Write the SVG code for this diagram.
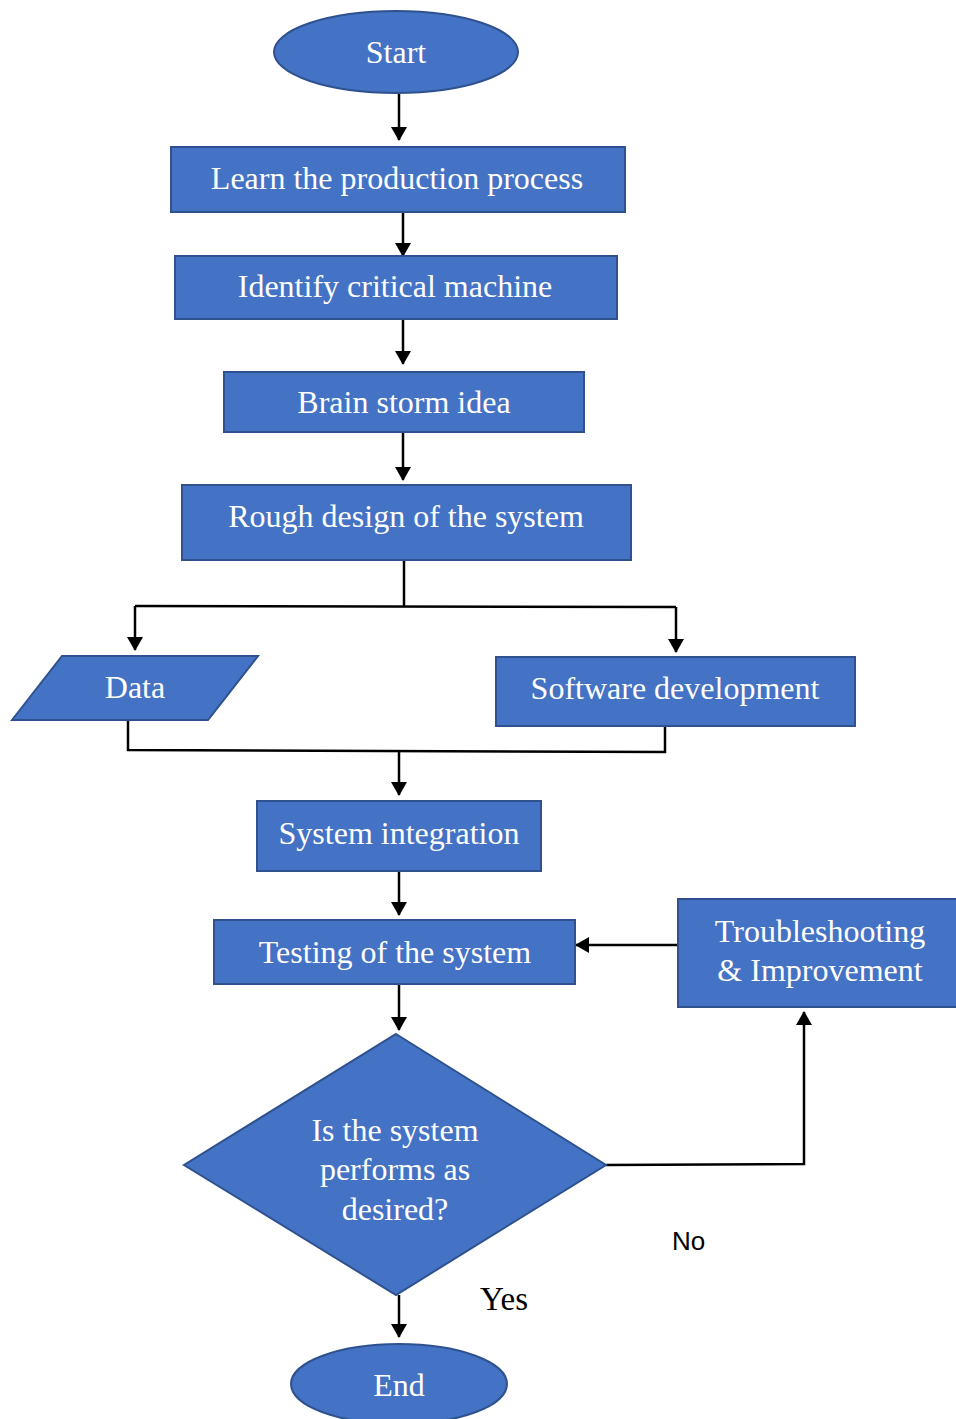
<svg xmlns="http://www.w3.org/2000/svg" width="956" height="1419" viewBox="0 0 956 1419">
  <defs>
    <marker id="arrow" markerWidth="14" markerHeight="16" refX="13" refY="8" orient="auto" markerUnits="userSpaceOnUse">
      <path d="M0,0 L14,8 L0,16 Z" fill="#000"/>
    </marker>
    <style>
      .shape { fill: #4472C4; stroke: #2F528F; stroke-width: 2; }
      .label { font-family: "Liberation Serif", "Times New Roman", serif; font-size: 32px; fill: #fff; text-anchor: middle; }
      .note { font-family: "Liberation Serif", "Times New Roman", serif; font-size: 33px; fill: #000; }
      .note-sans { font-family: "Liberation Sans", Arial, sans-serif; font-size: 26px; fill: #000; }
      .wire { fill: none; stroke: #000; stroke-width: 2.5; }
      .wire-arrow { fill: none; stroke: #000; stroke-width: 2.5; marker-end: url(#arrow); }
    </style>
  </defs>

  <rect width="956" height="1419" fill="#fff"/>

  <!-- connectors -->
  <g id="connectors">
    <line class="wire-arrow" x1="399" y1="94" x2="399" y2="140"/>
    <line class="wire-arrow" x1="403" y1="212" x2="403" y2="256"/>
    <line class="wire-arrow" x1="403" y1="319" x2="403" y2="364"/>
    <line class="wire-arrow" x1="403" y1="432" x2="403" y2="480"/>
    <!-- split to Data / Software -->
    <polyline class="wire" points="404,560 404,606"/>
    <polyline class="wire-arrow" points="135,606 135,650"/>
    <polyline class="wire" points="135,606 676,607"/>
    <polyline class="wire-arrow" points="676,607 676,652"/>
    <!-- merge into System integration -->
    <polyline class="wire" points="128,720 128,750 665,752 665,726"/>
    <line class="wire-arrow" x1="399" y1="750" x2="399" y2="795"/>
    <line class="wire-arrow" x1="399" y1="871" x2="399" y2="915"/>
    <line class="wire-arrow" x1="399" y1="984" x2="399" y2="1030"/>
    <!-- feedback loop -->
    <line class="wire-arrow" x1="678" y1="945" x2="576" y2="945"/>
    <polyline class="wire-arrow" points="606,1165 804,1164 804,1012"/>
    <line class="wire-arrow" x1="399" y1="1295" x2="399" y2="1337"/>
    <text class="note-sans" x="672" y="1250">No</text>
    <text class="note" x="480" y="1310">Yes</text>
  </g>

  <g id="start">
    <ellipse class="shape" cx="396" cy="52" rx="122" ry="41"/>
    <text class="label" x="396" y="63">Start</text>
  </g>

  <g id="learn">
    <rect class="shape" x="171" y="147" width="454" height="65"/>
    <text class="label" x="397" y="189">Learn the production process</text>
  </g>

  <g id="identify">
    <rect class="shape" x="175" y="256" width="442" height="63"/>
    <text class="label" x="395" y="297">Identify critical machine</text>
  </g>

  <g id="brainstorm">
    <rect class="shape" x="224" y="372" width="360" height="60"/>
    <text class="label" x="404" y="413">Brain storm idea</text>
  </g>

  <g id="rough-design">
    <rect class="shape" x="182" y="485" width="449" height="75"/>
    <text class="label" x="406" y="527">Rough design of the system</text>
  </g>

  <g id="data">
    <polygon class="shape" points="12,720 62,656 258,656 208,720"/>
    <text class="label" x="135" y="698">Data</text>
  </g>

  <g id="software">
    <rect class="shape" x="496" y="657" width="359" height="69"/>
    <text class="label" x="675" y="699">Software development</text>
  </g>

  <g id="integration">
    <rect class="shape" x="257" y="801" width="284" height="70"/>
    <text class="label" x="399" y="844">System integration</text>
  </g>

  <g id="testing">
    <rect class="shape" x="214" y="920" width="361" height="64"/>
    <text class="label" x="395" y="963">Testing of the system</text>
  </g>

  <g id="troubleshooting">
    <rect class="shape" x="678" y="899" width="290" height="108"/>
    <text class="label" x="820" y="942">Troubleshooting</text>
    <text class="label" x="820" y="981">&amp; Improvement</text>
  </g>

  <g id="decision">
    <polygon class="shape" points="396,1034 606,1165 396,1295 184,1165"/>
    <text class="label" x="395" y="1141">Is the system</text>
    <text class="label" x="395" y="1180">performs as</text>
    <text class="label" x="395" y="1220">desired?</text>
  </g>

  <g id="end">
    <ellipse class="shape" cx="399" cy="1384" rx="108" ry="40"/>
    <text class="label" x="399" y="1396">End</text>
  </g>
</svg>
